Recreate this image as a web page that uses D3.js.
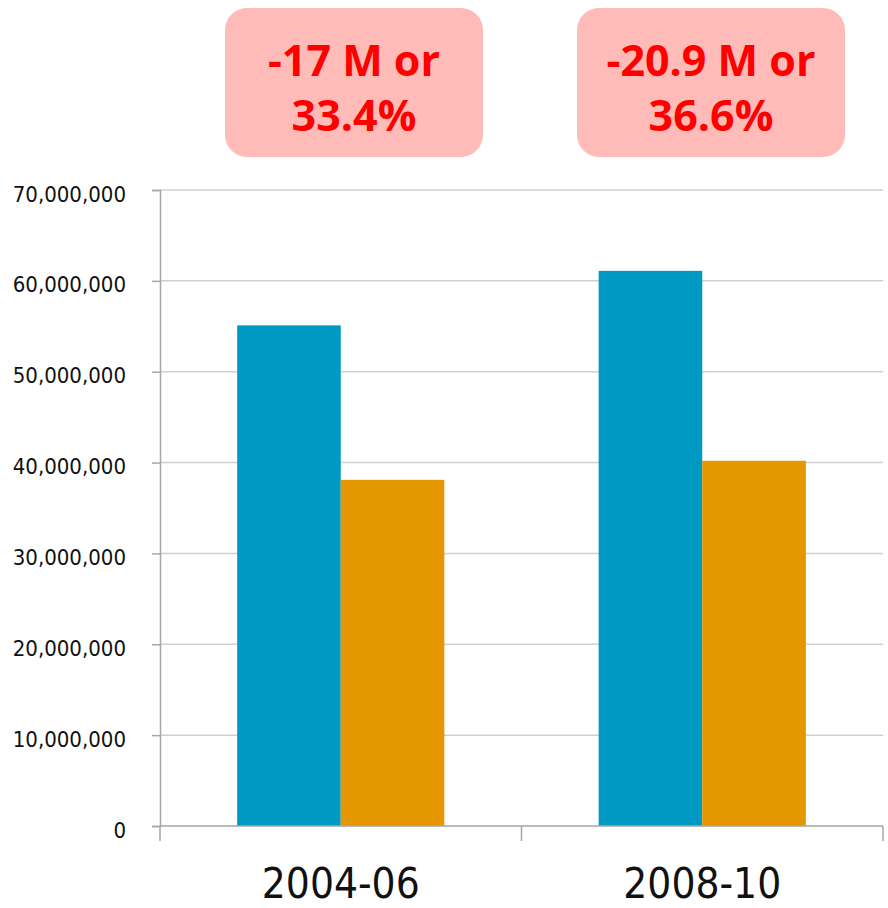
<!DOCTYPE html>
<html><head><meta charset="utf-8">
<script src="https://cdn.jsdelivr.net/npm/d3@7"></script>
<style>body{margin:0;background:#fff}</style>
</head><body>
<svg id="c" width="888" height="908"></svg>
<script>
const categories = ["2004-06", "2008-10"];
const seriesA = [55100000, 61100000];
const seriesB = [38100000, 40200000];
const yTicks = [0, 10000000, 20000000, 30000000, 40000000, 50000000, 60000000, 70000000];
const notes = [["-17 M or", "33.4%"], ["-20.9 M or", "36.6%"]];

(function () {
const svg = d3.select("#c");
const font = "'Liberation Sans Narrow','DejaVu Sans Condensed',sans-serif";
const mL = 160, mR = 883, mT = 190, mB = 826;
const x = d3.scaleBand().domain(categories).range([mL, mR]);
const y = d3.scaleLinear().domain([0, 70000000]).range([mB, mT]);
const inner = d3.scaleBand().domain([0, 1]).range([0, x.bandwidth()]).paddingOuter(0.745).paddingInner(0);

// gridlines
svg.append("g").selectAll("line").data(yTicks.slice(1)).join("line")
  .attr("x1", mL).attr("x2", mR).attr("y1", d => y(d)).attr("y2", d => y(d))
  .attr("stroke", "#d0d0d0").attr("stroke-width", 1.5);

// bars
const colors = ["#0099c3", "#e59700"];
const g = svg.append("g");
categories.forEach((c, i) => {
  [seriesA[i], seriesB[i]].forEach((v, j) => {
    g.append("rect").attr("x", x(c) + inner(j)).attr("width", inner.bandwidth())
      .attr("y", y(v)).attr("height", y(0) - y(v)).attr("fill", colors[j]);
  });
});

// y axis
const ya = svg.append("g").attr("transform", `translate(${mL},0)`)
  .call(d3.axisLeft(y).tickValues(yTicks).tickSize(8).tickPadding(26).tickFormat(d3.format(",")));
ya.select(".domain").attr("stroke", "#a6a6a6").attr("stroke-width", 1.5);
ya.selectAll(".tick line").attr("stroke", "#a6a6a6").attr("stroke-width", 1.5);
ya.selectAll("text").attr("font-family", font).attr("font-size", 22).attr("fill", "#111").attr("dy", "0.5em");

// x axis
const xa = svg.append("g").attr("transform", `translate(0,${mB})`);
xa.append("line").attr("x1", mL).attr("x2", mR).attr("stroke", "#a6a6a6").attr("stroke-width", 1.5);
const xt = [mL, ...categories.map(c => x(c) + x.bandwidth())];
xa.selectAll(".t").data(xt).join("line").attr("class", "t")
  .attr("x1", d => d).attr("x2", d => d).attr("y1", 0).attr("y2", 15)
  .attr("stroke", "#a6a6a6").attr("stroke-width", 1.5);
xa.selectAll("text").data(categories).join("text")
  .attr("x", d => x(d) + x.bandwidth() / 2).attr("y", 72)
  .attr("text-anchor", "middle").attr("font-family", font).attr("font-size", 42).attr("fill", "#111")
  .text(d => d);

// annotation boxes
const boxes = [[225, 483], [577, 845]];
notes.forEach((n, i) => {
  const [a, b] = boxes[i];
  svg.append("rect").attr("x", a).attr("y", 8).attr("width", b - a).attr("height", 149)
    .attr("rx", 22).attr("fill", "#ffbbb8");
  n.forEach((t, k) => {
    svg.append("text").attr("x", (a + b) / 2).attr("y", 76 + k * 55)
      .attr("text-anchor", "middle").attr("font-family", "'Open Sans',sans-serif")
      .attr("font-weight", "bold").attr("font-size", 43).attr("fill", "#ff0000").text(t);
  });
});
})();
</script>
</body></html>
